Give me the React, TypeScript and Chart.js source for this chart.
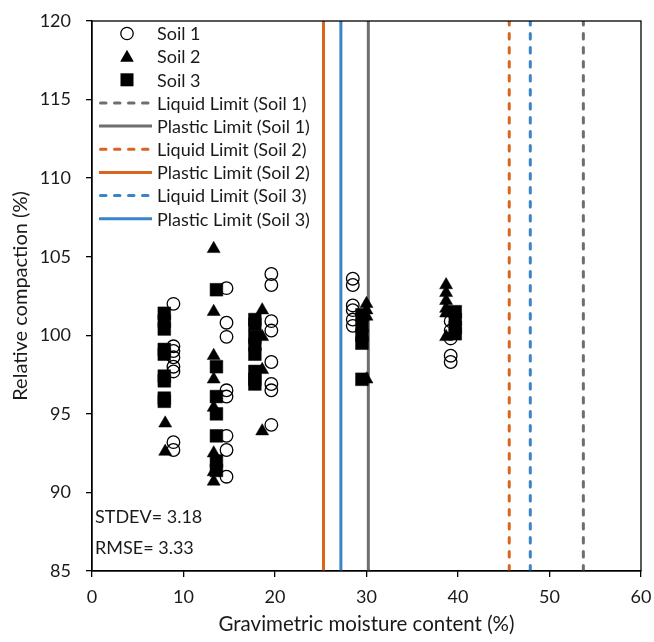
import React, { useEffect, useRef } from "react";
import { Chart, registerables } from "chart.js";

Chart.register(...registerables);

// ---- data ----
const soil1X = [8.9, 8.9, 8.9, 8.9, 8.9, 8.9, 8.9, 8.9, 14.7, 14.7, 14.7, 14.7, 14.7, 14.7, 14.7, 14.7, 19.6, 19.6, 19.6, 19.6, 19.6, 19.6, 19.6, 19.6, 28.5, 28.5, 28.5, 28.5, 28.5, 28.5, 39.2, 39.2, 39.2, 39.2, 39.2];
const soil1Y = [102.0, 99.3, 99.0, 98.6, 98.0, 97.7, 93.2, 92.7, 103.0, 100.8, 99.9, 96.5, 96.1, 93.6, 92.7, 91.0, 103.9, 103.2, 100.9, 100.3, 98.3, 96.9, 96.5, 94.3, 103.6, 103.2, 101.9, 101.6, 101.0, 100.6, 100.9, 100.3, 99.8, 98.7, 98.3];

const soil2X = [8.0, 8.0, 13.3, 13.3, 13.3, 13.3, 13.3, 13.3, 13.3, 13.3, 18.6, 18.6, 18.6, 18.6, 30.0, 30.0, 30.0, 30.0, 38.7, 38.7, 38.7, 38.7, 38.7, 38.7];
const soil2Y = [94.4, 92.6, 105.5, 101.5, 98.7, 97.2, 95.4, 92.5, 91.3, 90.7, 101.6, 99.9, 97.8, 93.9, 102.0, 101.6, 101.2, 97.2, 103.2, 102.7, 102.2, 101.7, 101.4, 99.9];

const soil3X = [7.9, 7.9, 7.9, 7.9, 7.9, 7.9, 7.9, 7.9, 7.9, 13.6, 13.6, 13.6, 13.6, 13.6, 13.6, 13.6, 17.8, 17.8, 17.8, 17.8, 17.8, 17.8, 17.8, 17.8, 29.5, 29.5, 29.5, 29.5, 29.5, 39.7, 39.7, 39.7, 39.7];
const soil3Y = [101.4, 100.9, 100.4, 99.1, 98.8, 97.4, 97.1, 96.0, 95.8, 102.9, 98.0, 96.1, 95.0, 93.6, 92.0, 91.4, 101.0, 100.7, 99.9, 99.4, 98.8, 97.7, 97.2, 96.9, 101.3, 100.6, 100.0, 99.5, 97.2, 101.5, 101.0, 100.5, 100.1];

const limitLabels = [
  "Liquid Limit (Soil 1)",
  "Plastic Limit (Soil 1)",
  "Liquid Limit (Soil 2)",
  "Plastic Limit (Soil 2)",
  "Liquid Limit (Soil 3)",
  "Plastic Limit (Soil 3)",
];
const limitValues = [53.7, 30.2, 45.6, 25.3, 47.9, 27.2];
const limitColors = ["#6e6e6e", "#6e6e6e", "#d9661f", "#d9661f", "#3b84c9", "#3b84c9"];
const limitDashed = [true, false, true, false, true, false];

const yMin = 85;
const yMax = 120;
const xMin = 0;
const xMax = 60;

const statsLines = ["STDEV= 3.18", "RMSE= 3.33"];

const FONT = "Lato, 'Open Sans', sans-serif";
const TEXT = "#1a1a1a";

function pts(xs: number[], ys: number[]) {
  return xs.map((x, i) => ({ x, y: ys[i] }));
}

const frameAndLegend = {
  id: "frameAndLegend",
  afterDatasetsDraw(chart: any) {
    const { ctx, chartArea } = chart;
    const { left, top, right, bottom } = chartArea;
    ctx.save();
    // frame
    ctx.strokeStyle = "#000";
    ctx.lineWidth = 1.3;
    ctx.strokeRect(left, top, right - left, bottom - top);

    // legend
    const rowY0 = top + 12.5;
    const step = 23.15;
    const markerX = left + 35;
    const lx1 = left + 7;
    const lx2 = left + 60;
    const textX = left + 65;
    ctx.font = `18px ${FONT}`;
    ctx.textBaseline = "middle";
    ctx.textAlign = "left";
    chart.data.datasets.forEach((ds: any, i: number) => {
      const y = rowY0 + i * step;
      if (ds.showLine) {
        const dashed = ds.borderDash && ds.borderDash.length;
        ctx.save();
        ctx.strokeStyle = ds.borderColor;
        ctx.lineWidth = 3;
        ctx.lineCap = dashed ? "round" : "butt";
        ctx.setLineDash(ds.borderDash || []);
        ctx.beginPath();
        ctx.moveTo(lx1 + (dashed ? 1.5 : 0), y);
        ctx.lineTo(lx2, y);
        ctx.stroke();
        ctx.restore();
      } else {
        ctx.save();
        ctx.fillStyle = "#000";
        ctx.strokeStyle = "#000";
        ctx.lineWidth = 1.3;
        if (ds.pointStyle === "circle") {
          ctx.beginPath();
          ctx.arc(markerX, y, 6.2, 0, Math.PI * 2);
          ctx.stroke();
        } else if (ds.pointStyle === "triangle") {
          ctx.beginPath();
          ctx.moveTo(markerX, y - 7);
          ctx.lineTo(markerX + 6.8, y + 5);
          ctx.lineTo(markerX - 6.8, y + 5);
          ctx.closePath();
          ctx.fill();
        } else {
          ctx.fillRect(markerX - 6.5, y - 6.5, 13, 13);
        }
        ctx.restore();
      }
      ctx.fillStyle = TEXT;
      ctx.fillText(ds.label, textX, y + 1);
    });

    // stats text
    ctx.font = `18px ${FONT}`;
    ctx.fillStyle = TEXT;
    ctx.fillText(statsLines[0], left + 3, bottom - 54);
    ctx.fillText(statsLines[1], left + 3, bottom - 23);
    ctx.restore();
  },
};

export default function App() {
  const ref = useRef<HTMLCanvasElement | null>(null);

  useEffect(() => {
    if (!ref.current) return;
    const datasets: any[] = [
      {
        label: "Soil 1",
        data: pts(soil1X, soil1Y),
        pointStyle: "circle",
        pointRadius: 6.3,
        borderColor: "#000",
        backgroundColor: "rgba(0,0,0,0)",
        borderWidth: 1.3,
        showLine: false,
      },
      {
        label: "Soil 2",
        data: pts(soil2X, soil2Y),
        pointStyle: "triangle",
        pointRadius: 7.5,
        borderColor: "#000",
        backgroundColor: "#000",
        borderWidth: 0.5,
        showLine: false,
      },
      {
        label: "Soil 3",
        data: pts(soil3X, soil3Y),
        pointStyle: "rect",
        pointRadius: 9,
        borderColor: "#000",
        backgroundColor: "#000",
        borderWidth: 0.5,
        showLine: false,
      },
      ...limitLabels.map((label, i) => ({
        label,
        data: [
          { x: limitValues[i], y: yMin },
          { x: limitValues[i], y: yMax },
        ],
        showLine: true,
        borderColor: limitColors[i],
        backgroundColor: limitColors[i],
        borderWidth: 3,
        borderDash: limitDashed[i] ? [5.5, 8.5] : [],
        borderCapStyle: limitDashed[i] ? "round" : "butt",
        pointRadius: 0,
        pointHoverRadius: 0,
      })),
    ];

    const chart = new Chart(ref.current, {
      type: "scatter",
      data: { datasets },
      options: {
        animation: false,
        responsive: false,
        devicePixelRatio: 1,
        layout: { padding: { top: 21, right: 13, left: 0, bottom: 0 } },
        plugins: {
          legend: { display: false },
          tooltip: { enabled: false },
        },
        scales: {
          x: {
            type: "linear",
            min: xMin,
            max: xMax,
            ticks: {
              stepSize: 10,
              color: TEXT,
              font: { family: FONT, size: 18 },
              padding: 9,
              maxRotation: 0,
            },
            grid: {
              drawOnChartArea: false,
              drawTicks: true,
              tickLength: 6,
              color: "#000",
              lineWidth: 1.3,
            },
            border: { display: true, color: "#000", width: 1.3 },
            title: {
              display: true,
              text: "Gravimetric moisture content (%)",
              color: TEXT,
              font: { family: FONT, size: 20.5 },
              padding: { top: 0, bottom: 5 },
            },
            afterFit: (scale: any) => {
              scale.height = 71;
              scale.paddingLeft = 0;
              scale.paddingRight = 0;
            },
          },
          y: {
            type: "linear",
            min: yMin,
            max: yMax,
            ticks: {
              stepSize: 5,
              color: TEXT,
              font: { family: FONT, size: 18 },
              padding: 15,
            },
            grid: {
              drawOnChartArea: false,
              drawTicks: true,
              tickLength: 6,
              color: "#000",
              lineWidth: 1.3,
            },
            border: { display: true, color: "#000", width: 1.3 },
            title: {
              display: true,
              text: "Relative compaction (%)",
              color: TEXT,
              font: { family: FONT, size: 20 },
              padding: { top: 9, bottom: 0 },
            },
            afterFit: (scale: any) => {
              scale.width = 92;
              scale.paddingTop = 0;
              scale.paddingBottom = 0;
            },
          },
        },
      } as any,
      plugins: [frameAndLegend],
    });
    return () => chart.destroy();
  }, []);

  return (
    <div style={{ position: "absolute", left: 0, top: 0, width: 654, height: 642, background: "#fff" }}>
      <canvas ref={ref} width={654} height={642} style={{ display: "block", width: 654, height: 642 }} />
    </div>
  );
}
